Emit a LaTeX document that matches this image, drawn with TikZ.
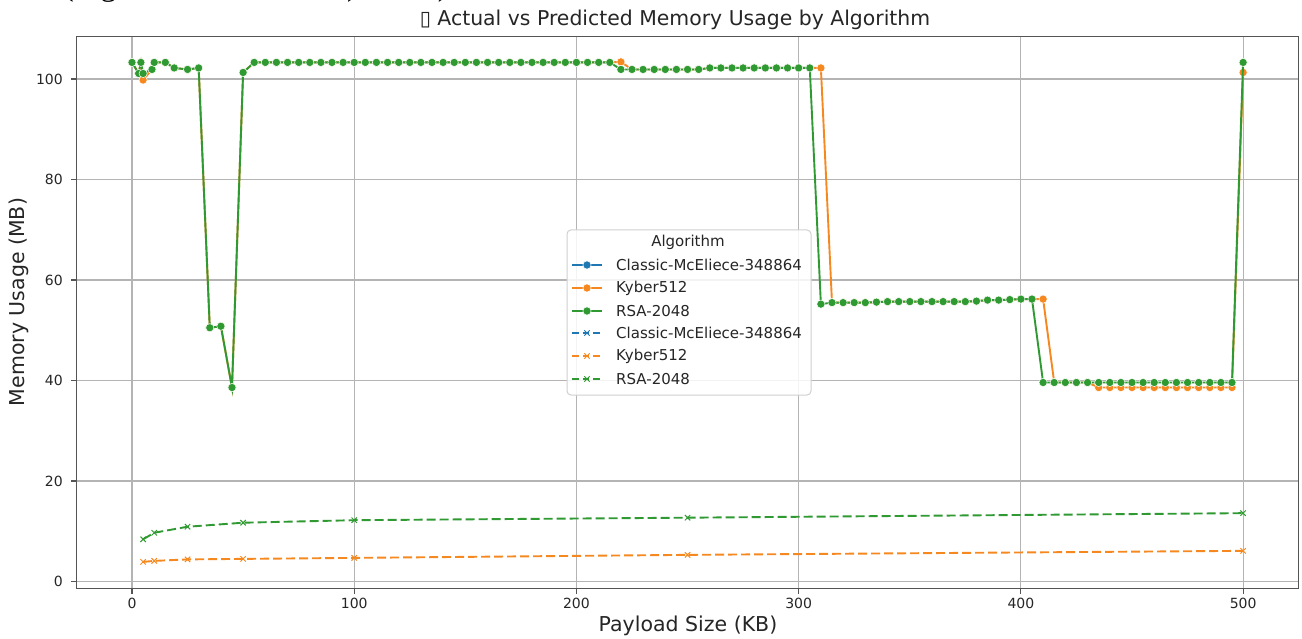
\documentclass[tikz,border=0pt]{standalone}
\usepackage{fontspec}
\setmainfont{DejaVu Sans}
\newfontfamily\capfont{Liberation Serif}
\definecolor{cmblue}{HTML}{1F77B4}
\definecolor{kyorange}{HTML}{F5891F}
\definecolor{rsagreen}{HTML}{2F9A32}
\definecolor{gridgray}{HTML}{B4B4B4}
\definecolor{spinegray}{HTML}{555555}
\definecolor{textgray}{HTML}{262626}
\definecolor{legendgray}{HTML}{D0D0D0}
\begin{document}
\begin{tikzpicture}[x=1pt,y=-1pt,
  txt/.style={text=textgray, inner sep=0pt},
  ticklab/.style={txt, font=\fontsize{14}{16}\selectfont},
  gridline/.style={draw=gridgray, line width=1.1pt},
  actual/.style={draw=#1, line width=1.9pt, mark=*, mark size=4.1pt,
    mark options={solid, draw=white, line width=0.5pt, fill=#1}},
  predicted/.style={draw=#1, line width=1.9pt, dash pattern=on 9pt off 4pt,
    mark=x, mark size=3.8pt, mark options={solid, draw=#1, line width=1pt}},
  actual leg/.style={},
  predicted leg/.style={dash pattern=on 6.5pt off 4pt},
]
\useasboundingbox (0,0) rectangle (1302,639);
\fill[white] (0,0) rectangle (1302,639);

% caption line of the page above, cut off at the top edge
\begin{scope}
  \clip (0,0) rectangle (1302,14);
  \node[anchor=base west, inner sep=0pt, font=\capfont\fontsize{32}{36}\selectfont] (pagecap) at (63,-4) {(Figure 4.5 RAM Test), 2025)};
\end{scope}

% title
\node[txt, font=\fontsize{20.4}{24}\selectfont] (title) at (675,20) {▯ Actual vs Predicted Memory Usage by Algorithm};

% data area: x in KB, y in MB
\begin{scope}[shift={(132pt,-581.5pt)}, x=2.2222pt, y=5.025pt]
  % grid
  \foreach \k in {0,100,...,500}
    \draw[gridline] (\k,-1.4) -- (\k,108.5);
  \foreach \v in {0,20,...,100}
    \draw[gridline] (-25,\v) -- (525,\v);

  % actual usage
  \draw[actual=kyorange] plot coordinates {
    (0,103.3) (3,101.1) (4,103.3) (5,99.8) (9,101.9) (10,103.3) (15,103.3) (19,102.2) (25,101.9) (30,102.2)
    (35,50.5) (40,50.8) (45,38.6) (50,101.3)
    (55,103.3) (60,103.3) (65,103.3) (70,103.3) (75,103.3) (80,103.3) (85,103.3) (90,103.3) (95,103.3) (100,103.3)
    (105,103.3) (110,103.3) (115,103.3) (120,103.3) (125,103.3) (130,103.3) (135,103.3) (140,103.3) (145,103.3) (150,103.3)
    (155,103.3) (160,103.3) (165,103.3) (170,103.3) (175,103.3) (180,103.3) (185,103.3) (190,103.3) (195,103.3) (200,103.3)
    (205,103.3) (210,103.3) (215,103.3)
    (220,103.4) (225,101.9) (230,101.9) (235,101.9) (240,101.9) (245,101.9) (250,101.9) (255,101.9)
    (260,102.2) (265,102.2) (270,102.2) (275,102.2) (280,102.2) (285,102.2) (290,102.2) (295,102.2) (300,102.2) (305,102.2)
    (310,102.2) (315,55.5) (320,55.5) (325,55.5) (330,55.5) (335,55.6) (340,55.7) (345,55.7) (350,55.7) (355,55.7)
    (360,55.7) (365,55.7) (370,55.7) (375,55.7) (380,55.8) (385,56.0) (390,56.0) (395,56.1) (400,56.2) (405,56.2)
    (410,56.2) (415,39.6) (420,39.6) (425,39.6) (430,39.6) (435,38.6) (440,38.6) (445,38.6) (450,38.6) (455,38.6)
    (460,38.6) (465,38.6) (470,38.6) (475,38.6) (480,38.6) (485,38.6) (490,38.6) (495,38.6) (500,101.3)};
  \draw[actual=rsagreen] plot coordinates {
    (0,103.3) (3,101.1) (4,103.3) (5,101.1) (9,101.9) (10,103.3) (15,103.3) (19,102.2) (25,101.9) (30,102.2)
    (35,50.5) (40,50.8) (45,38.6) (50,101.3)
    (55,103.3) (60,103.3) (65,103.3) (70,103.3) (75,103.3) (80,103.3) (85,103.3) (90,103.3) (95,103.3) (100,103.3)
    (105,103.3) (110,103.3) (115,103.3) (120,103.3) (125,103.3) (130,103.3) (135,103.3) (140,103.3) (145,103.3) (150,103.3)
    (155,103.3) (160,103.3) (165,103.3) (170,103.3) (175,103.3) (180,103.3) (185,103.3) (190,103.3) (195,103.3) (200,103.3)
    (205,103.3) (210,103.3) (215,103.3)
    (220,101.9) (225,101.9) (230,101.9) (235,101.9) (240,101.9) (245,101.9) (250,101.9) (255,101.9)
    (260,102.2) (265,102.2) (270,102.2) (275,102.2) (280,102.2) (285,102.2) (290,102.2) (295,102.2) (300,102.2) (305,102.2)
    (310,55.2) (315,55.5) (320,55.5) (325,55.5) (330,55.5) (335,55.6) (340,55.7) (345,55.7) (350,55.7) (355,55.7)
    (360,55.7) (365,55.7) (370,55.7) (375,55.7) (380,55.8) (385,56.0) (390,56.0) (395,56.1) (400,56.2) (405,56.2)
    (410,39.6) (415,39.6) (420,39.6) (425,39.6) (430,39.6) (435,39.6) (440,39.6) (445,39.6) (450,39.6) (455,39.6)
    (460,39.6) (465,39.6) (470,39.6) (475,39.6) (480,39.6) (485,39.6) (490,39.6) (495,39.6) (500,103.3)};

  % predicted usage
  \draw[predicted=kyorange] plot coordinates {
    (5,3.9) (10,4.1) (25,4.4) (50,4.5) (100,4.7) (250,5.3) (500,6.1)};
  \draw[predicted=rsagreen] plot coordinates {
    (5,8.4) (10,9.7) (25,10.9) (50,11.7) (100,12.2) (250,12.7) (500,13.6)};

  % frame, ticks and tick labels
  \draw[spinegray, line width=1.3pt] (-25,-1.4) rectangle (525,108.5);
  \foreach \k in {0,100,...,500} {
    \draw[spinegray, line width=1.1pt] (\k,-1.4) -- ++(0pt,-5.5pt);
    \node[ticklab, anchor=north] (xt\k) at ([yshift=-9.5pt]\k,-1.4) {\k};
  }
  \foreach \v in {0,20,...,100} {
    \draw[spinegray, line width=1.1pt] (-25,\v) -- ++(-5.5pt,0pt);
    \node[ticklab, anchor=east] (yt\v) at ([xshift=-13.5pt]-25,\v) {\v};
  }
\end{scope}

% axis titles
\node[txt, font=\fontsize{20.5}{24}\selectfont] (xlabel) at (688,626) {Payload Size (KB)};
\node[txt, font=\fontsize{20.5}{24}\selectfont, rotate=90] (ylabel) at (19,302) {Memory Usage (MB)};

% legend
\draw[draw=legendgray, fill=white, fill opacity=0.85, rounded corners=4pt, line width=1pt] (567,230) rectangle (811,395);
\node[txt, font=\fontsize{15}{18}\selectfont] (legtitle) at (688,242) {Algorithm};
\foreach \yy/\col/\lab/\kind [count=\i] in {
    265/cmblue/Classic-McEliece-348864/actual,
    288/kyorange/Kyber512/actual,
    311/rsagreen/RSA-2048/actual,
    333/cmblue/Classic-McEliece-348864/predicted,
    356/kyorange/Kyber512/predicted,
    379/rsagreen/RSA-2048/predicted} {
  \draw[\kind=\col, \kind\space leg, mark indices={2}, line width=1.8pt] plot coordinates {(572,\yy) (587,\yy) (602,\yy)};
  \node[txt, anchor=west, font=\fontsize{15}{18}\selectfont] (leg\i) at (616,\yy) {\lab};
}
\end{tikzpicture}
\end{document}
